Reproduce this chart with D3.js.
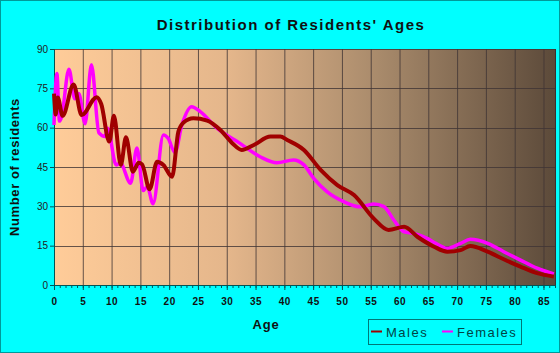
<!DOCTYPE html>
<html>
<head>
<meta charset="utf-8">
<script src="https://cdn.jsdelivr.net/npm/d3@7"></script>
<style>
  body { margin: 0; background: #00ffff; }
  svg { display: block; font-family: Arial, "Liberation Sans", sans-serif; }
</style>
</head>
<body>
<div id="chart"></div>
<script>
// ages and counts (finer steps where the curve wiggles)
const maleAges = [0, 0.3, 0.65, 1.5, 3.4, 4.8, 7.4, 8.2, 9.6, 10.4, 11.6, 12.5, 13.7, 14.7, 15.3, 16.6, 17.9, 19, 20.5, 21.6, 22.5, 24.2, 26.6, 28.9, 31, 32.6, 34.7, 37.6, 39.3, 40.5, 43.4, 46.3, 49.2, 52.1, 55.5, 58.1, 60.8, 63.1, 66, 68.3, 70.6, 72.3, 75.3, 78.1, 81, 83.9, 86.8];
const maleValues = [73, 65, 71.5, 64.5, 76.5, 64.8, 71.6, 69, 54.7, 64.5, 45.8, 56.3, 43.2, 46.6, 46, 36.5, 47, 45.8, 41.3, 58.5, 62, 63.6, 62.7, 59.1, 54, 51.5, 53.4, 56.6, 56.6, 55.3, 51.5, 43.9, 38.1, 34.3, 25.4, 21, 22.2, 18.4, 14.6, 12.7, 13.3, 14.9, 12.7, 9.8, 7, 4.5, 3.2];

const femaleAges = [0, 0.5, 0.95, 1.3, 2.6, 3.6, 4.3, 5.4, 6.5, 7.8, 8.9, 9.3, 10.8, 11.5, 13.3, 14.4, 15.5, 16.2, 17.2, 19, 19.8, 21, 22.2, 23.9, 25.4, 28.3, 32.3, 35.8, 38.7, 41.6, 43.4, 45.1, 47.4, 50.3, 53.2, 55.5, 57.3, 59, 60.8, 62.5, 64.8, 66.3, 68.3, 70.6, 72.3, 75.3, 78.1, 81, 83.9, 86.8];
const femaleValues = [61, 80.7, 62.5, 64, 82.3, 71, 73, 61.5, 84, 58, 56.6, 59.8, 45.8, 46.5, 38.8, 52.2, 36, 37.5, 31, 57.2, 56, 50.5, 61, 68, 66.1, 59.8, 54, 48.9, 46.6, 47.7, 45.8, 40.7, 35.6, 31.8, 29.8, 30.9, 29.9, 24.8, 20.3, 19.7, 17.8, 15.9, 14, 15.9, 17.4, 15.9, 12.7, 9.5, 6.4, 4.2];

const xTicks = d3.range(0, 86, 5);
const yTicks = [0, 15, 30, 45, 60, 75, 90];

const width = 560, height = 353;
const margin = { top: 49, right: 5, bottom: 68, left: 54 };

const svg = d3.select("#chart").append("svg")
  .attr("width", width)
  .attr("height", height);

// page border
svg.append("rect")
  .attr("x", 0.5).attr("y", 0.5)
  .attr("width", width - 1).attr("height", height - 1)
  .attr("fill", "#00ffff")
  .attr("stroke", "#009a9a");

const x = d3.scaleLinear().domain([0, 87]).range([margin.left, width - margin.right]);
const y = d3.scaleLinear().domain([0, 90]).range([height - margin.bottom, margin.top]);

// background gradient of the plot area
const grad = svg.append("defs").append("linearGradient")
  .attr("id", "bg").attr("x1", "0%").attr("x2", "100%");
[["0%", "#ffcc99"], ["35%", "#e4b68b"], ["65%", "#a88a6b"], ["100%", "#5c4a3a"]]
  .forEach(([o, c]) => grad.append("stop").attr("offset", o).attr("stop-color", c));

svg.append("rect")
  .attr("x", x(0)).attr("y", y(90))
  .attr("width", x(87) - x(0)).attr("height", y(0) - y(90))
  .attr("fill", "url(#bg)");

// grid
svg.append("g")
  .selectAll("line")
  .data(xTicks.filter(d => d > 0))
  .join("line")
  .attr("x1", d => x(d) + 0.5).attr("x2", d => x(d) + 0.5)
  .attr("y1", y(90)).attr("y2", y(0))
  .attr("stroke", "#403535").attr("stroke-opacity", 0.8);

svg.append("g")
  .selectAll("line")
  .data(yTicks.filter(d => d > 0))
  .join("line")
  .attr("x1", x(0)).attr("x2", x(87))
  .attr("y1", d => Math.round(y(d)) + 0.5).attr("y2", d => Math.round(y(d)) + 0.5)
  .attr("stroke", "#403535").attr("stroke-opacity", 0.8);

// plot frame right side
svg.append("line")
  .attr("x1", x(87) + 0.5).attr("x2", x(87) + 0.5)
  .attr("y1", y(90)).attr("y2", y(0))
  .attr("stroke", "#3a3030");

// axes
const xAxis = svg.append("g")
  .attr("transform", `translate(0,${y(0)})`)
  .call(d3.axisBottom(x).tickValues(d3.range(0, 88, 1)).tickSize(3).tickFormat(""));
xAxis.selectAll("line").attr("stroke", "#005555");
xAxis.select(".domain").attr("stroke", "#005555");

const xAxisMajor = svg.append("g")
  .attr("transform", `translate(0,${y(0)})`)
  .call(d3.axisBottom(x).tickValues(xTicks).tickSize(5).tickPadding(8));
xAxisMajor.select(".domain").remove();
xAxisMajor.selectAll("line").attr("stroke", "#005555");
xAxisMajor.selectAll("text")
  .attr("fill", "#111")
  .style("font-size", "10px")
  .style("font-weight", "bold")
  .style("letter-spacing", "0.5px");

const yAxis = svg.append("g")
  .attr("transform", `translate(${x(0)},0)`)
  .call(d3.axisLeft(y).tickValues(yTicks).tickSize(4).tickPadding(2));
yAxis.select(".domain").attr("stroke", "#005555");
yAxis.selectAll("line").attr("stroke", "#005555");
yAxis.selectAll("text")
  .attr("fill", "#222")
  .style("font-size", "10px");

// lines
const line = d3.line()
  .x(d => x(d[0]))
  .y(d => y(d[1]))
  .curve(d3.curveMonotoneX);

svg.append("path")
  .datum(femaleAges.map((a, i) => [a, femaleValues[i]]))
  .attr("d", line)
  .attr("fill", "none")
  .attr("stroke", "#ff00ff")
  .attr("stroke-width", 3.5);

svg.append("path")
  .datum(maleAges.map((a, i) => [a, maleValues[i]]))
  .attr("d", line)
  .attr("fill", "none")
  .attr("stroke", "#a00000")
  .attr("stroke-width", 4);

// titles
svg.append("text")
  .attr("x", 291).attr("y", 30)
  .attr("text-anchor", "middle")
  .style("font-size", "15px")
  .style("font-weight", "bold")
  .style("letter-spacing", "1.5px")
  .attr("fill", "#111")
  .text("Distribution of Residents' Ages");

svg.append("text")
  .attr("x", 266).attr("y", 329)
  .attr("text-anchor", "middle")
  .style("font-size", "13px")
  .style("font-weight", "bold")
  .style("letter-spacing", "0.8px")
  .attr("fill", "#111")
  .text("Age");

svg.append("text")
  .attr("transform", `translate(19,${(y(0) + y(90)) / 2}) rotate(-90)`)
  .attr("text-anchor", "middle")
  .style("font-size", "13px")
  .style("font-weight", "bold")
  .style("letter-spacing", "0.6px")
  .attr("fill", "#111")
  .text("Number of residents");

// legend
const legend = svg.append("g").attr("transform", "translate(368,319)");
legend.append("rect")
  .attr("x", 0.5).attr("y", 0.5)
  .attr("width", 153).attr("height", 25)
  .attr("fill", "none")
  .attr("stroke", "#007777");

const items = [["Males", "#a00000", 3], ["Females", "#ff00ff", 74]];
items.forEach(([name, color, dx]) => {
  legend.append("line")
    .attr("x1", dx).attr("x2", dx + 11)
    .attr("y1", 12.5).attr("y2", 12.5)
    .attr("stroke", color).attr("stroke-width", 2);
  legend.append("text")
    .attr("x", dx + 15).attr("y", 17.5)
    .style("font-size", "13px")
    .style("letter-spacing", "1.5px")
    .attr("fill", "#004444")
    .text(name);
});
</script>
</body>
</html>
